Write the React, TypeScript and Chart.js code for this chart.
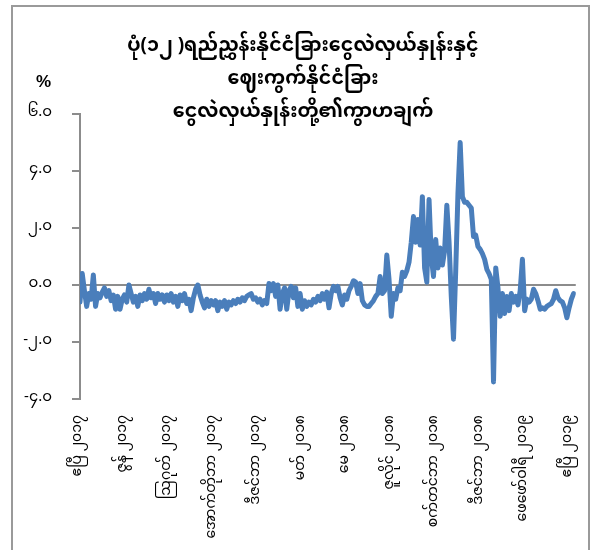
import React, { useEffect, useRef } from "react";
import { Chart, registerables } from "chart.js";

Chart.register(...registerables);

const TITLE_LINES = [
  "ပုံ(၁၂ )ရည်ညွှန်းနိုင်ငံခြားငွေလဲလှယ်နှုန်းနှင့်",
  "ဈေးကွက်နိုင်ငံခြား",
  "ငွေလဲလှယ်နှုန်းတို့၏ကွာဟချက်",
];
const Y_UNIT = "%";
const X_TICK_LABELS = [
  "ဧပြီ ၂၀၁၇",
  "ဇွန် ၂၀၁၇",
  "ဩဂုတ် ၂၀၁၇",
  "အောက်တိုဘာ ၂၀၁၇",
  "ဒီဇင်ဘာ ၂၀၁၇",
  "မတ် ၂၀၁၈",
  "မေ ၂၀၁၈",
  "ဇူလိုင် ၂၀၁၈",
  "စက်တင်ဘာ ၂၀၁၈",
  "ဒီဇင်ဘာ ၂၀၁၈",
  "ဖေဖော်ဝါရီ ၂၀၁၉",
  "ဧပြီ ၂၀၁၉",
];
const X_TICK_STEP = 20;
const Y_MIN = -4;
const Y_MAX = 6;
const Y_STEP = 2;

const GAP_VALUES = [
  -0.6, 0.4, -0.2, -0.75, -0.3, -0.5, 0.35, -0.75, -0.3, -0.45,
  -0.25, -0.1, -0.4, -0.2, -0.55, -0.35, -0.85, -0.4, -0.85, -0.5,
  -0.35, -0.6, 0.0, -0.3, -0.6, -0.4, -0.75, -0.35, -0.55, -0.3,
  -0.5, -0.15, -0.45, -0.3, -0.65, -0.3, -0.5, -0.35, -0.6, -0.35,
  -0.55, -0.3, -0.6, -0.4, -0.75, -0.35, -0.55, -0.3, -0.65, -0.5,
  -0.9, -0.45, -0.15, 0.0, -0.35, -0.6, -0.8, -0.5, -0.75, -0.55,
  -0.7, -0.55, -0.9, -0.6, -0.75, -0.55, -0.85, -0.6, -0.7, -0.55,
  -0.65, -0.5, -0.6, -0.45, -0.55, -0.4, -0.35, -0.3, -0.5, -0.45,
  -0.6, -0.5, -0.7, -0.55, -0.65, 0.05, -0.2, 0.05, -0.4, 0.0,
  -0.85, -0.3, -0.1, -0.85, -0.2, -0.05, -0.45, -0.1, -0.75, -0.3,
  -0.85, -0.55, -0.75, -0.6, -0.7, -0.5, -0.6, -0.4, -0.55, -0.3,
  -0.5, -0.25, -0.8, -0.3, -0.05, -0.2, -0.05, -0.45, -0.7, -0.35,
  -0.5, -0.2, -0.05, 0.15, 0.1, -0.3, 0.05, -0.55, -0.7, -0.75,
  -0.75, -0.65, -0.55, -0.4, -0.3, 0.3, -0.3, -0.2, 1.05, 0.2,
  -1.1, -0.3, -0.5, -0.1, -0.2, 0.45, 0.3, 0.5, 0.8, 1.5,
  2.4, 1.5, 2.3, 1.4, 3.1, 0.6, 0.1, 3.0, 1.0, 0.3,
  1.6, 0.6, 1.3, 0.7, 1.2, 2.8, 1.5, -0.4, -1.9, 0.5,
  3.2, 5.0, 3.1, 2.9, 2.9, 2.8, 2.7, 1.7, 1.75, 1.35,
  1.25, 1.1, 0.9, 0.55, 0.4, 0.2, -3.4, 0.6, -0.1, -1.1,
  -0.3, -1.0, -0.4, -0.9, -0.3, -0.6, -0.4, -0.7, -0.2, 0.9,
  -0.9, -0.5, -0.6, -0.5, -0.15, -0.3, -0.55, -0.85, -0.8, -0.85,
  -0.75, -0.7, -0.65, -0.5, -0.2, -0.45, -0.55, -0.6, -0.8, -1.15,
  -0.8, -0.5, -0.3,
];

const FONT_FAMILY =
  "'Noto Sans Myanmar', 'Myanmar Text', 'Padauk', 'Pyidaungsu', 'Noto Sans', sans-serif";
const MM_DIGITS = "၀၁၂၃၄၅၆၇၈၉";
const toMyanmarDigits = (s: string) => s.replace(/[0-9]/g, (d) => MM_DIGITS[Number(d)]);

export default function App() {
  const canvasRef = useRef<HTMLCanvasElement | null>(null);

  useEffect(() => {
    const canvas = canvasRef.current;
    if (!canvas) return;
    const chart = new Chart(canvas, {
      type: "line",
      data: {
        datasets: [
          {
            data: GAP_VALUES.map((v, i) => ({ x: i, y: v })),
            borderColor: "#4a7ebb",
            borderWidth: 5,
            pointRadius: 0,
            tension: 0,
            borderJoinStyle: "round",
            borderCapStyle: "round",
          },
        ],
      },
      options: {
        animation: false,
        responsive: false,
        maintainAspectRatio: false,
        layout: { padding: { top: 114, right: 7, left: 0, bottom: 0 } },
        plugins: {
          legend: { display: false },
          tooltip: { enabled: false },
          title: { display: false },
        },
        scales: {
          x: {
            type: "linear",
            min: 0,
            max: GAP_VALUES.length,
            grid: { display: false },
            border: { display: false },
            afterBuildTicks: (scale: any) => {
              scale.ticks = X_TICK_LABELS.map((_, i) => ({ value: i * X_TICK_STEP }));
            },
            ticks: {
              autoSkip: false,
              minRotation: 90,
              maxRotation: 90,
              padding: 8,
              color: "#000",
              font: { size: 14, family: FONT_FAMILY },
              callback: (v: any) => X_TICK_LABELS[Math.round(Number(v) / X_TICK_STEP)] ?? "",
            },
            afterFit: (scale: any) => {
              scale.height = 151;
            },
          },
          y: {
            min: Y_MIN,
            max: Y_MAX,
            ticks: {
              stepSize: Y_STEP,
              color: "#000",
              padding: 20,
              font: { size: 15, family: FONT_FAMILY },
              callback: (v: any) => toMyanmarDigits(Number(v).toFixed(1)),
            },
            grid: {
              color: (ctx: any) =>
                ctx.tick && ctx.tick.value === 0 ? "#8c8c8c" : "rgba(0,0,0,0)",
              tickColor: "#8c8c8c",
              lineWidth: 2,
              tickLength: 8,
              drawTicks: true,
            },
            border: { display: true, color: "#8c8c8c", width: 2 },
            afterFit: (scale: any) => {
              scale.width = 80;
            },
          },
        },
      },
    });
    return () => chart.destroy();
  }, []);

  return (
    <div
      style={{
        position: "fixed",
        left: 0,
        top: 0,
        width: 594,
        height: 550,
        overflow: "hidden",
        background: "#fff",
        fontFamily: FONT_FAMILY,
      }}
    >
      <div
        style={{
          position: "absolute",
          left: 11,
          top: 5,
          width: 575,
          height: 600,
          border: "2px solid #9a9a9a",
        }}
      />
      <canvas
        ref={canvasRef}
        width={594}
        height={550}
        style={{ position: "absolute", left: 0, top: 0, width: 594, height: 550 }}
      />
      {TITLE_LINES.map((t, i) => (
        <div
          key={i}
          style={{
            position: "absolute",
            left: 0,
            width: 606,
            top: 33 + i * 33,
            textAlign: "center",
            fontWeight: "bold",
            fontSize: 19,
            lineHeight: "28px",
            color: "#000",
          }}
        >
          {t}
        </div>
      ))}
      <div
        style={{
          position: "absolute",
          left: 36,
          top: 72,
          fontWeight: "bold",
          fontSize: 17,
          fontFamily: "'Liberation Sans', Arial, sans-serif",
          color: "#000",
        }}
      >
        {Y_UNIT}
      </div>
    </div>
  );
}
